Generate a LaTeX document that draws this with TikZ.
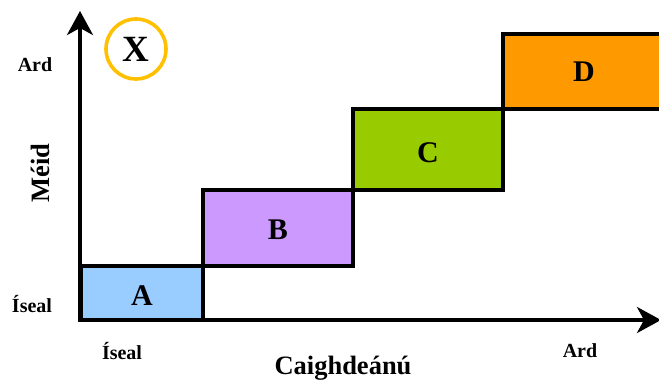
\documentclass[tikz,border=0pt]{standalone}
\usepackage{fontspec}
\setmainfont{Liberation Serif}
\usetikzlibrary{arrows.meta}
\definecolor{cA}{HTML}{99CCFF}
\definecolor{cB}{HTML}{CC99FF}
\definecolor{cC}{HTML}{99CC00}
\definecolor{cD}{HTML}{FF9900}
\definecolor{cX}{HTML}{FFC000}
\tikzset{
  axis/.style={line width=3.5pt, -{Stealth[length=24pt,width=26pt,inset=7pt]}},
  small/.style={font=\bfseries\fontsize{20}{22}\selectfont},
  big/.style={font=\bfseries\fontsize{30}{32}\selectfont},
  title/.style={font=\bfseries\fontsize{26.5}{28}\selectfont}
}
\begin{document}
\begin{tikzpicture}[x=1pt,y=-1pt]
\useasboundingbox (0,0) rectangle (659,382);
\clip (0,0) rectangle (659,382);
% boxes
\filldraw[fill=cA, line width=3.5pt] (81,266) rectangle (203,320);
\filldraw[fill=cB, line width=3.5pt] (203,190) rectangle (353,266);
\filldraw[fill=cC, line width=3.5pt] (353,109) rectangle (503,190);
\filldraw[fill=cD, line width=3.5pt] (503,34) rectangle (680,109);
\node[big] (a) at (142,296) {A};
\node[big] (b) at (278,230) {B};
\node[big] (c) at (428,153) {C};
\node[big] (d) at (584,72) {D};
% axes
\coordinate (o) at (80,320);
\coordinate (ytop) at (80,11);
\coordinate (xend) at (661,320);
\draw[axis] ([yshift=-1.75pt]o) -- (ytop);
\draw[axis] ([xshift=-1.75pt]o) -- (xend);
% labels
\node[small] (yhi) at (35,65) {Ard};
\node[small] (ylo) at (32,304) {Íseal};
\node[small] (xlo) at (122,351) {Íseal};
\node[small] (xhi) at (580,351) {Ard};
\node[title] (xt) at (343,368) {Caighdeánú};
\node[title, rotate=90] (yt) at (40,173) {Méid};
% circle X
\node[draw=cX, line width=3.6pt, circle, minimum size=60pt, inner sep=0pt, font=\bfseries\fontsize{37}{39}\selectfont] (x) at (136,49) {X};
\end{tikzpicture}
\end{document}
